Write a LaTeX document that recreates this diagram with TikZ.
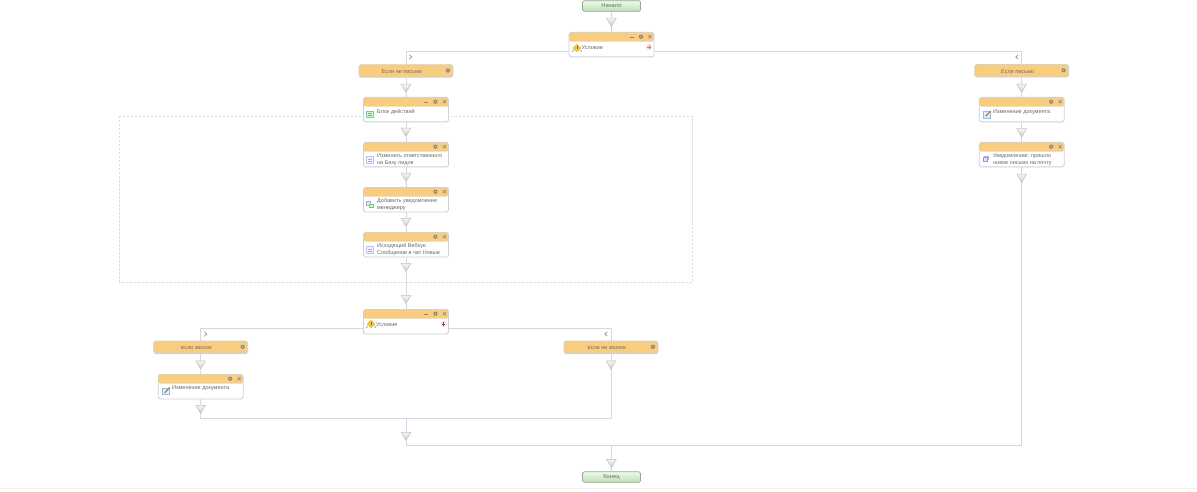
\documentclass[tikz,border=0pt]{standalone}
\usepackage{fontspec}
\setmainfont{Liberation Sans}
\usetikzlibrary{shapes.geometric,backgrounds}
\definecolor{hdr}{HTML}{F9CD80}
\definecolor{edge}{HTML}{CDD1D9}
\definecolor{wire}{HTML}{CFD9E8}
\definecolor{ink}{HTML}{6A6A6A}
\definecolor{tool}{HTML}{858585}
\definecolor{termedge}{HTML}{8FA98F}
\definecolor{termtop}{HTML}{EEF8EA}
\definecolor{termbot}{HTML}{BFE0B4}
\tikzset{
  wfcardbox/.style={draw=edge,line width=0.9pt,fill=white,rounded corners=1.8pt,inner sep=0pt,minimum width=85pt,
    path picture={\fill[hdr] ([yshift=1pt]path picture bounding box.north west) rectangle ([yshift=-9.2pt]path picture bounding box.north east);}},
  wfbranchbox/.style={draw=edge,line width=0.9pt,fill=hdr,rounded corners=1.8pt,inner sep=0pt,minimum width=94pt,minimum height=12.5pt},
  wftermbox/.style={draw=termedge,line width=0.7pt,top color=termtop,bottom color=termbot,rounded corners=1.5pt,inner sep=0pt,minimum width=58pt,minimum height=10.5pt,
    font=\fontsize{5.8}{7}\selectfont,text=ink},
  wftext/.style={font=\fontsize{5.5}{7.2}\selectfont,text=ink,inner sep=0pt,align=left,anchor=west},
  wfctext/.style={font=\fontsize{5.5}{7.2}\selectfont,text=ink,inner sep=0pt},
  wftribox/.style={regular polygon,regular polygon sides=3,shape border rotate=180,minimum size=11pt,inner sep=0pt,draw=black!25,line width=0.5pt,top color=black!4,bottom color=black!20},
  wfwire/.style={draw=wire,line width=1pt},
  wfdash/.style={draw=black!13,line width=0.5pt,dash pattern=on 2.5pt off 1.5pt},
}
% name, cx, top, height
\newcommand\wfcard[4]{%
  \node[wfcardbox,minimum height=#4pt,anchor=north] (#1) at (#2,#3) {};
  \fill[tool] ([xshift=-13.5pt,yshift=-4.7pt]#1.north east) circle (2.1pt);
  \fill[hdr!60!white] ([xshift=-13.5pt,yshift=-4.7pt]#1.north east) circle (0.7pt);
  \draw[tool,line width=0.6pt] ([xshift=-6pt,yshift=-3.2pt]#1.north east) -- ([xshift=-3pt,yshift=-6.2pt]#1.north east)
     ([xshift=-6pt,yshift=-6.2pt]#1.north east) -- ([xshift=-3pt,yshift=-3.2pt]#1.north east);
}
\newcommand\wfminus[1]{%
  \draw[tool,line width=0.6pt] ([xshift=-24.5pt,yshift=-5.6pt]#1.north east) -- ([xshift=-20.5pt,yshift=-5.6pt]#1.north east);
}
\newcommand\wfbranch[5]{% name cx cy text
  \node[wfbranchbox] (#1) at (#2,#3) {};
  \node[wfctext] (#1t) at ([xshift=-4.2pt,yshift=-0.8pt]#1.center) {#4};
  \fill[tool] ([xshift=-5.5pt,yshift=0.5pt]#1.east) circle (2.1pt);
  \fill[hdr!60!white] ([xshift=-5.5pt,yshift=0.5pt]#1.east) circle (0.7pt);
}
\newcommand\wftri[3]{\node[wftribox] (#1) at (#2,#3) {};}
% icons: x y
\newcommand\iconcond[2]{\begin{scope}[shift={(#1,#2)}]
  \fill[yellow!75!orange,draw=orange!70!black!70,line width=0.35pt] (0,-4.2) -- (3.6,-0.4) -- (0,3.2) -- (-3.6,-0.4) -- cycle;
  \draw[black!60,line width=0.6pt] (0,-2.2) -- (0,0.8);
  \draw[black!50,line width=0.5pt] (-3.4,1.4) -- (-4.8,3.6) (3.4,1.4) -- (4.8,3.6);
\end{scope}}
\newcommand\icondoc[2]{\begin{scope}[shift={(#1,#2)}]
  \draw[blue!30!gray!35,fill=blue!5,line width=0.6pt] (-3.6,-3.6) rectangle (3.6,3.6);
  \draw[blue!50!gray!45,line width=0.4pt] (-1.6,-1) -- (1.6,-1) (-1.6,1) -- (1.6,1);
\end{scope}}
\newcommand\icongreen[2]{\begin{scope}[shift={(#1,#2)}]
  \draw[green!50!black!45,fill=green!18,line width=0.5pt] (-3.6,-2.6) rectangle (3.6,3);
  \draw[green!40!black!55,line width=0.4pt] (-2,-0.8) -- (2,-0.8) (-2,1) -- (2,1);
\end{scope}}
\newcommand\iconchat[2]{\begin{scope}[shift={(#1,#2)}]
  \draw[blue!50!gray!45,fill=blue!8,line width=0.5pt] (-3.6,-3) rectangle (1.2,0.8);
  \draw[green!50!black!50,fill=green!22,line width=0.5pt] (-0.6,-0.4) rectangle (3.6,3);
\end{scope}}
\newcommand\iconedit[2]{\begin{scope}[shift={(#1,#2)}]
  \draw[blue!60!cyan!45,fill=cyan!15,line width=0.6pt] (-3.6,-3.2) rectangle (3,3.6);
  \draw[orange!80!black,line width=1pt] (-1.4,1.8) -- (3.8,-3.6);
\end{scope}}
\newcommand\iconmail[2]{\begin{scope}[shift={(#1,#2)}]
  \fill[blue!35!gray!45] (-1.6,-2.4) rectangle (3,1.2);
  \draw[blue!50!gray!55,fill=blue!10,line width=0.5pt] (-3,-1) rectangle (1.6,2.6);
\end{scope}}
\newcommand\iconplus[3]{\begin{scope}[shift={(#1,#2)}]
  \fill[black!8] (0,0) circle (3.2pt);
  \draw[#3,line width=0.6pt] (-1.6,0) -- (1.6,0) (0,-1.6) -- (0,1.6);
\end{scope}}
\newcommand\wfchev[3]{\draw[tool,line width=0.6pt] (#1-#3*1.3,#2-2.2) -- (#1+#3*1.3,#2) -- (#1-#3*1.3,#2+2.2);}
\begin{document}
\begin{tikzpicture}[x=1pt,y=-1pt]
\useasboundingbox (0,0) rectangle (1197,492);
\draw[wfdash] (119,116) rectangle (692,282);

\node[wftermbox] (start) at (611.5,6) {Начало};
\wftri{t1}{611.5}{21}
\wfcard{c1}{611.5}{32}{24.5}\wfminus{c1}
\coordinate (c1l) at (569,51.5);
\coordinate (c1r) at (654,51.5);
\iconcond{577}{48.5}\iconplus{649}{47}{red!60!white}
\node[wftext] (c1t) at (581.5,47.7) {Условие};

\wfbranch{b1}{406}{71}{Если не письмо}{}
\wftri{t2}{406}{87}
\wfcard{a1}{406}{97}{24.5}\wfminus{a1}
\icongreen{369.5}{114}
\node[wftext] (a1t) at (377,111.7) {Блок действий};
\wftri{t3}{406}{131}
\wfcard{a2}{406}{142}{24.5}
\icondoc{370}{160}
\node[wftext] (a2t) at (377,159.7) {Изменить ответственного\\на Базу лидов};
\wftri{t4}{406}{176}
\wfcard{a3}{406}{187}{24.5}
\iconchat{369.5}{204.5}
\node[wftext] (a3t) at (377,204.7) {Добавить уведомление\\менеджеру};
\wftri{t5}{406}{221}
\wfcard{a4}{406}{232}{24.5}
\icondoc{370}{250}
\node[wftext] (a4t) at (377,249.7) {Исходящий Вебхук:\\Сообщение в чат Новые};
\wftri{t6}{406}{266}
\wftri{t7}{406}{298}

\wfcard{c2}{406}{309}{24.5}\wfminus{c2}
\coordinate (c2l) at (363.5,328);
\coordinate (c2r) at (448.5,328);
\iconcond{371}{324.5}\iconplus{443.5}{324}{red!60!black!80}
\node[wftext] (c2t) at (376,324.7) {Условие};

\wfbranch{b2}{200.7}{347.3}{если звонок}{}
\wftri{t8}{200.7}{363.5}
\wfcard{d1}{200.7}{374}{24.5}
\iconedit{166}{391}
\node[wftext] (d1t) at (172,387.7) {Изменение документа};
\wftri{t9}{200.7}{408}

\wfbranch{b3}{611}{347.3}{если не звонок}{}
\wftri{t10}{611}{363.5}
\coordinate (m1) at (406,418);
\wftri{t11}{406}{435}
\coordinate (m2) at (406,445.5);
\coordinate (m3) at (611.5,445.5);
\wftri{t12}{611.5}{462}
\node[wftermbox] (end) at (611.5,477) {Конец};

\wfbranch{b4}{1021.7}{70.8}{Если письмо}{}
\wftri{t13}{1021.7}{87}
\wfcard{e1}{1021.7}{97}{24.5}
\iconedit{987}{114.5}
\node[wftext] (e1t) at (993,111.7) {Изменение документа};
\wftri{t14}{1021.7}{131.5}
\wfcard{e2}{1021.7}{142}{24.5}
\iconmail{986}{158.5}
\node[wftext] (e2t) at (993,159.7) {Уведомление: пришло\\новое письмо на почту};
\wftri{t15}{1021.7}{177}

\wfchev{410.5}{57}{1}
\wfchev{1017}{57}{-1}
\wfchev{205.5}{334}{1}
\wfchev{606}{334}{-1}

\begin{scope}[on background layer]
  \fill[white] (0,0) rectangle (1197,492);
  \draw[black!6,line width=0.5pt] (0,488.5) -- (1197,488.5);
  \draw[wfwire] (start) -- (t1) -- (c1);
  \draw[wfwire] (c1l) -| (b1.north);
  \draw[wfwire] (c1r) -| (b4.north);
  \draw[wfwire] (b1) -- (t2) -- (a1) -- (t3) -- (a2) -- (t4) -- (a3) -- (t5) -- (a4) -- (t6) -- (t7) -- (c2);
  \draw[wfwire] (c2l) -| (b2.north);
  \draw[wfwire] (c2r) -| (b3.north);
  \draw[wfwire] (b2) -- (t8) -- (d1) -- (t9);
  \draw[wfwire] (t9.center) |- (m1);
  \draw[wfwire] (b3) -- (t10);
  \draw[wfwire] (t10.center) |- (m1);
  \draw[wfwire] (m1) -- (t11) -- (m2) -- (m3) -- (t12) -- (end);
  \draw[wfwire] (b4) -- (t13) -- (e1) -- (t14) -- (e2) -- (t15);
  \draw[wfwire] (t15.center) |- (m3);
\end{scope}
\end{tikzpicture}
\end{document}
